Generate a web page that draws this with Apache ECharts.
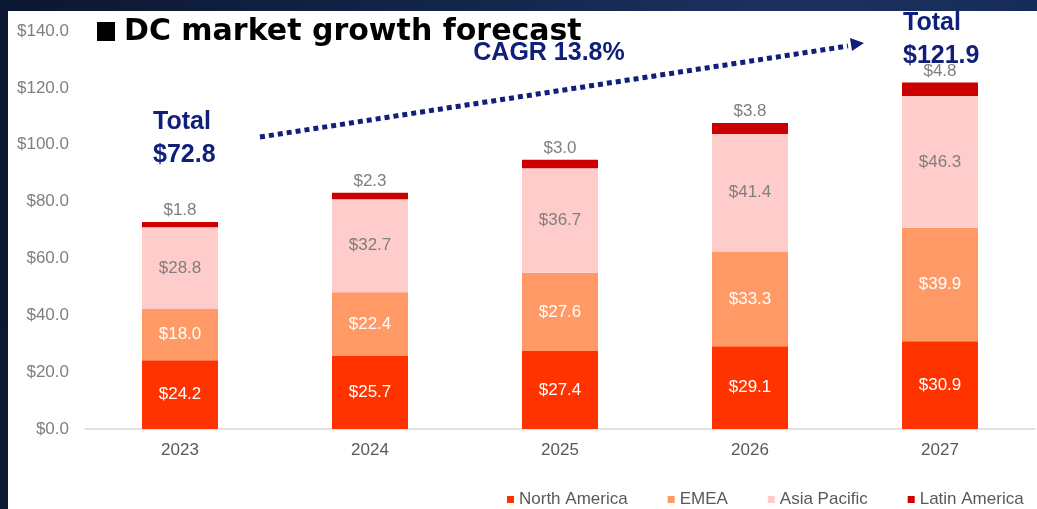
<!DOCTYPE html>
<html>
<head>
<meta charset="utf-8">
<script src="https://cdn.jsdelivr.net/npm/echarts@6/dist/echarts.min.js"></script>
<style>
  html, body { margin: 0; padding: 0; }
  body {
    width: 1037px; height: 509px; overflow: hidden; position: relative;
    background: linear-gradient(100deg, #0b1730 0%, #13254a 40%, #1c3160 70%, #142a55 100%);
  }
  #paper { position: absolute; left: 8px; top: 11px; right: 0; bottom: 0; background: #fff; }
  #chart { position: absolute; left: 0; top: 0; width: 1037px; height: 509px; }
</style>
</head>
<body>
<div id="paper"></div>
<div id="chart"></div>
<script>
const years = ["2023", "2024", "2025", "2026", "2027"];
const northAmerica = [24.2, 25.7, 27.4, 29.1, 30.9];
const emea = [18.0, 22.4, 27.6, 33.3, 39.9];
const asiaPacific = [28.8, 32.7, 36.7, 41.4, 46.3];
const latinAmerica = [1.8, 2.3, 3.0, 3.8, 4.8];

const navy = "#10207a";
const money = (v) => "$" + Number(v).toFixed(1);

const chart = echarts.init(document.getElementById("chart"));

const seg = (name, data, color, labelColor, pos) => ({
  name,
  type: "bar",
  stack: "total",
  data,
  barWidth: "40%",
  itemStyle: { color },
  label: {
    show: true,
    position: pos || "inside",
    distance: 3,
    color: labelColor,
    fontSize: 17,
    fontFamily: "Liberation Sans",
    formatter: (p) => money(p.value),
  },
});

const option = {
  animation: false,
  backgroundColor: "transparent",
  grid: { left: 85, right: 2, top: 31, bottom: 80 },
  legend: {
    top: 491,
    left: 507,
    width: 530,
    padding: 0,
    itemWidth: 7,
    itemHeight: 7,
    itemGap: 40,
    icon: "rect",
    textStyle: { color: "#595959", fontSize: 17, fontFamily: "Liberation Sans" },
    data: ["North America", "EMEA", "Asia Pacific", "Latin America"],
  },
  xAxis: {
    type: "category",
    data: years,
    axisLine: { lineStyle: { color: "#d9d9d9", width: 1.5 } },
    axisTick: { show: false },
    axisLabel: { color: "#595959", fontSize: 17, fontFamily: "Liberation Sans", margin: 13 },
  },
  yAxis: {
    type: "value",
    min: 0,
    max: 140,
    interval: 20,
    splitLine: { show: false },
    axisLine: { show: false },
    axisTick: { show: false },
    axisLabel: {
      color: "#7f7f7f",
      fontSize: 17,
      fontFamily: "Liberation Sans",
      margin: 16,
      formatter: money,
    },
  },
  series: [
    seg("North America", northAmerica, "#ff3300", "#ffffff"),
    seg("EMEA", emea, "#ff9966", "#ffffff"),
    seg("Asia Pacific", asiaPacific, "#ffcccc", "#7f7f7f"),
    seg("Latin America", latinAmerica, "#cc0000", "#7f7f7f", "top"),
  ],
  graphic: [
    {
      type: "rect",
      shape: { x: 97, y: 22, width: 18, height: 19 },
      style: { fill: "#000" },
    },
    {
      type: "text",
      x: 124,
      y: 32,
      style: {
        text: "DC market growth forecast",
        fill: "#000",
        font: "bold 30px 'DejaVu Sans', sans-serif",
        verticalAlign: "middle",
      },
    },
    {
      type: "text",
      x: 153,
      y: 139,
      style: {
        text: "Total\n$72.8",
        fill: navy,
        font: "bold 25px 'Liberation Sans', Arial, sans-serif",
        lineHeight: 33,
        align: "left",
        verticalAlign: "middle",
      },
    },
    {
      type: "text",
      x: 903,
      y: 40,
      style: {
        text: "Total\n$121.9",
        fill: navy,
        font: "bold 25px 'Liberation Sans', Arial, sans-serif",
        lineHeight: 33,
        align: "left",
        verticalAlign: "middle",
      },
    },
    {
      type: "text",
      x: 549,
      y: 53,
      style: {
        text: "CAGR 13.8%",
        fill: navy,
        font: "bold 25px 'Liberation Sans', Arial, sans-serif",
        align: "center",
        verticalAlign: "middle",
      },
    },
    {
      type: "line",
      shape: { x1: 260, y1: 137, x2: 848, y2: 46 },
      style: { stroke: navy, lineWidth: 5, lineDash: [5, 4] },
    },
    {
      type: "polygon",
      shape: { points: [[850, 38], [864, 43], [852, 51]] },
      style: { fill: navy },
    },
  ],
};

chart.setOption(option);
</script>
</body>
</html>
